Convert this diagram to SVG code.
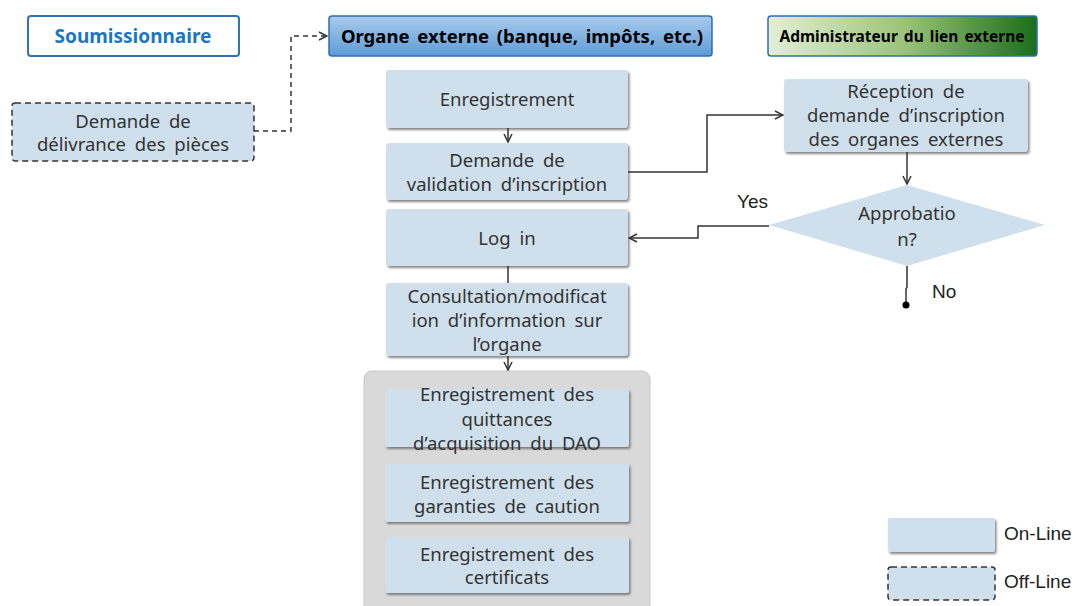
<svg xmlns="http://www.w3.org/2000/svg" width="1078" height="606" viewBox="0 0 1078 606">
<defs>
<style>
.t{font-family:"Noto Sans","Open Sans",sans-serif;font-size:18.5px;fill:#333;text-anchor:middle;word-spacing:4px}
.l{font-family:"Liberation Sans",Arial,sans-serif;font-size:19px;fill:#222}
.box{fill:#CFE0EC;filter:url(#sh)}
.dash{fill:#CFE0EC;stroke:#333;stroke-width:1.5;stroke-dasharray:6,4}
.c{fill:none;stroke:#333;stroke-width:1.5}
.hb{font-family:"Noto Sans","Open Sans",sans-serif;font-weight:bold;text-anchor:middle}
</style>
<filter id="sh" x="-5%" y="-5%" width="110%" height="120%">
<feDropShadow dx="1.5" dy="2" stdDeviation="0.8" flood-color="#555" flood-opacity="0.7"/>
</filter>
<linearGradient id="gb" x1="0" y1="0" x2="0" y2="1">
<stop offset="0" stop-color="#A9CBEB"/>
<stop offset="1" stop-color="#5F9BD6"/>
</linearGradient>
<linearGradient id="gg" x1="0" y1="0" x2="1" y2="0">
<stop offset="0" stop-color="#E3EFD6"/>
<stop offset="0.5" stop-color="#9CC47A"/>
<stop offset="1" stop-color="#1A6E1A"/>
</linearGradient>
<marker id="ar" markerWidth="10" markerHeight="10" refX="9" refY="5" orient="auto" markerUnits="userSpaceOnUse">
<path d="M1,1 L9,5 L1,9" fill="none" stroke="#333" stroke-width="1.5"/>
</marker>
</defs>
<rect width="1078" height="606" fill="#fff"/>

<g id="soumissionnaire">
<rect x="28" y="16" width="211" height="40" rx="3" fill="#fff" stroke="#2E75B6" stroke-width="2"/>
<text class="hb" x="133" y="43" font-size="19" fill="#1B76C4">Soumissionnaire</text>
</g>
<g id="organe-externe">
<rect x="329" y="16" width="383" height="40" rx="3" fill="url(#gb)" stroke="#2E6DB0" stroke-width="1.5"/>
<text class="hb" x="522" y="43" font-size="18.5" fill="#000" word-spacing="3">Organe externe (banque, impôts, etc.)</text>
</g>
<g id="administrateur">
<rect x="768" y="16" width="269" height="40" rx="3" fill="url(#gg)" stroke="#2E6DB0" stroke-width="1.5"/>
<text class="hb" x="902" y="42" font-size="15.5" fill="#000" word-spacing="2">Administrateur du lien externe</text>
</g>

<g id="demande-delivrance">
<rect class="dash" x="12" y="103" width="242" height="58" rx="3"/>
<text class="t" x="133" y="128">Demande de</text>
<text class="t" x="133" y="151">délivrance des pièces</text>
</g>

<g id="enregistrement">
<rect class="box" x="386" y="70" width="242" height="58" rx="3"/>
<text class="t" x="507" y="106">Enregistrement</text>
</g>
<g id="demande-validation">
<rect class="box" x="386" y="143" width="242" height="57" rx="3"/>
<text class="t" x="507" y="167">Demande de</text>
<text class="t" x="507" y="191">validation d’inscription</text>
</g>
<g id="login">
<rect class="box" x="386" y="209" width="242" height="57" rx="3"/>
<text class="t" x="507" y="245">Log in</text>
</g>
<g id="consultation">
<rect class="box" x="386" y="283" width="242" height="73" rx="3"/>
<text class="t" x="507" y="303">Consultation/modificat</text>
<text class="t" x="507" y="327">ion d’information sur</text>
<text class="t" x="507" y="351">l’organe</text>
</g>

<g id="groupe">
<rect x="364" y="371" width="286" height="250" rx="8" fill="#D9D9D9" stroke="#C8C8C8" stroke-width="1"/>
</g>
<g id="quittances">
<rect class="box" x="385" y="389" width="244" height="58" rx="2"/>
<text class="t" x="507" y="401">Enregistrement des</text>
<text class="t" x="507" y="426">quittances</text>
<text class="t" x="507" y="450">d’acquisition du DAO</text>
</g>
<g id="garanties">
<rect class="box" x="385" y="464" width="244" height="58" rx="2"/>
<text class="t" x="507" y="489">Enregistrement des</text>
<text class="t" x="507" y="513">garanties de caution</text>
</g>
<g id="certificats">
<rect class="box" x="385" y="537" width="244" height="56" rx="2"/>
<text class="t" x="507" y="561">Enregistrement des</text>
<text class="t" x="507" y="584">certificats</text>
</g>

<g id="reception">
<rect class="box" x="784" y="79" width="244" height="73" rx="3"/>
<text class="t" x="906" y="98">Réception de</text>
<text class="t" x="906" y="122">demande d’inscription</text>
<text class="t" x="906" y="146">des organes externes</text>
</g>
<g id="approbation">
<polygon points="907,185 1045,225 907,266 769,225" fill="#CFE0EC"/>
<text class="t" x="907" y="220">Approbatio</text>
<text class="t" x="907" y="246">n?</text>
</g>

<g id="connectors">
<path class="c" d="M254,131 H291 V36 H327" stroke-dasharray="5,4" marker-end="url(#ar)"/>
<path class="c" d="M508,128 V142" marker-end="url(#ar)"/>
<path class="c" d="M628,172 H707 V115 H783" marker-end="url(#ar)"/>
<path class="c" d="M508,266 V283"/>
<path class="c" d="M508,356 V370" marker-end="url(#ar)"/>
<path class="c" d="M907,152 V184" marker-end="url(#ar)"/>
<path class="c" d="M769,226 H698 V238 H629" marker-end="url(#ar)"/>
<path class="c" d="M907,266 V287 L906,289 V305"/>
<circle cx="906" cy="305" r="3.5" fill="#000"/>
<text class="l" x="737" y="208">Yes</text>
<text class="l" x="932" y="298">No</text>
</g>

<g id="legend">
<rect class="box" x="888" y="518" width="107" height="34" rx="2"/>
<text class="l" x="1004" y="540">On-Line</text>
<rect class="dash" x="888" y="567" width="107" height="33" rx="3"/>
<text class="l" x="1004" y="588">Off-Line</text>
</g>
</svg>
